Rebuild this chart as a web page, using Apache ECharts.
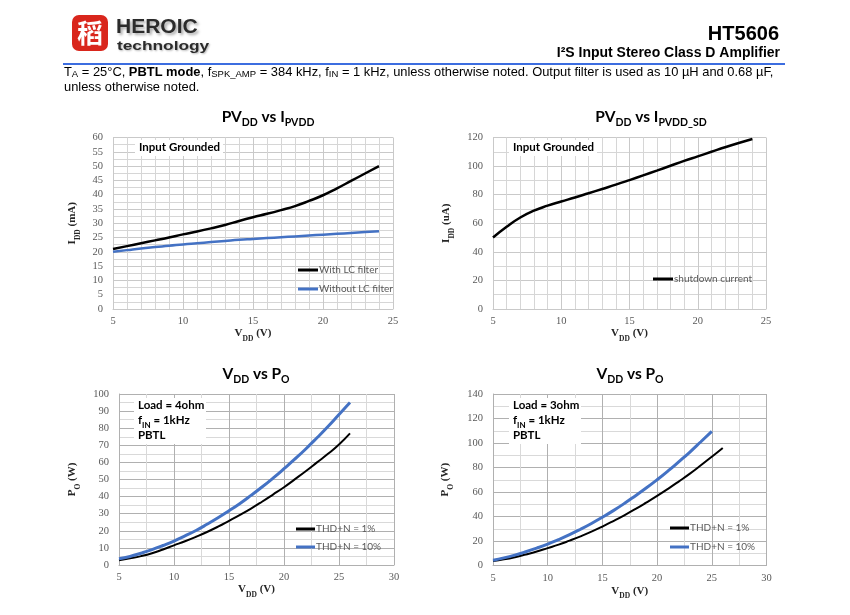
<!DOCTYPE html>
<html>
<head>
<meta charset="utf-8">
<script src="https://cdn.jsdelivr.net/npm/echarts@6/dist/echarts.min.js"></script>
<style>
html,body{margin:0;padding:0;background:#fff;}
#c{width:850px;height:615px;}
</style>
</head>
<body>
<div id="c"></div>
<script>
// ---- Data ----
const vddTop = [5,6,7,8,9,10,11,12,13,14,15,16,17,18,19,20,21,22,23,24];
const iddWithLC = [21,22,23,24,25,26.1,27.1,28.2,29.4,30.8,32.1,33.3,34.6,36,37.8,39.8,42.2,44.8,47.4,50];
const iddWithoutLC = [20,20.6,21.2,21.7,22.1,22.6,23,23.4,23.8,24.2,24.5,24.8,25.1,25.4,25.7,26,26.3,26.6,26.9,27.2];
const iddShutdown = [50,57.5,64,68.8,72.3,75.2,78,81,84,87,90.2,93.5,96.8,100.2,103.6,106.8,110,113.2,116.2,119];

const vddBottom = [5,6,7,8,9,10,11,12,13,14,15,16,17,18,19,20,21,22,23,24,25,26];
const vddBottom25 = [5,6,7,8,9,10,11,12,13,14,15,16,17,18,19,20,21,22,23,24,25];
const po4ohmThd1 = [2.8,3.9,5.2,6.9,9.1,11.5,13.9,16.5,19.3,22.4,25.8,29.3,33,37,41.2,45.5,50.2,55,60,65,70.5,77];
const po4ohmThd10 = [3.6,5,6.9,9,11.4,14,17,20.2,23.8,27.6,31.7,36,40.7,45.6,50.8,56.3,62,68,74.4,81,88,95];
const po3ohmThd1 = [3.6,5,6.8,9,11.4,14.2,17,20.3,23.8,27.6,31.8,36.3,41,46,51.3,56.8,62.6,68.7,75,81.8,88.8,96];
const po3ohmThd10 = [4.3,6.2,8.5,11.2,14.2,17.5,21.2,25.2,29.6,34.3,39.4,44.8,50.6,56.8,63.2,70,77.2,84.8,92.6,101,109.5];

const nameWith = 'With LC filter';
const nameWithout = 'Without LC filter';
const nameSd = 'shutdown current';
const nameThd1 = 'THD+N = 1%';
const nameThd10 = 'THD+N = 10%';

function pairs(xs, ys){ return xs.map((x,i)=>[x, ys[i]]); }

const BLACK = '#000000';
const BLUE = '#4472c4';
const serif = '"Liberation Serif", "Times New Roman", serif';
const sans = 'Lato, "Open Sans", "Liberation Sans", sans-serif';
const arial = '"Liberation Sans", Arial, sans-serif';

const nameRich = {
  b: {fontFamily: serif, fontWeight: 'bold', fontSize: 11, color: '#262626', lineHeight: 14, verticalAlign: 'top'},
  s: {fontFamily: serif, fontWeight: 'bold', fontSize: 7.5, color: '#262626', lineHeight: 9, padding: [7,0,0,0], verticalAlign: 'top'}
};

function xAx(gi, min, max, interval, minorN, gap, majorColor, minorColor){
  return {
    type: 'value', gridIndex: gi, min: min, max: max, interval: interval,
    name: '{b|V}{s|DD}{b| (V)}', nameLocation: 'middle', nameGap: gap,
    nameTextStyle: {rich: nameRich},
    axisLine: {show: true, lineStyle: {color: majorColor, width: 1}},
    axisTick: {show: false},
    axisLabel: {fontFamily: serif, fontSize: 10.5, color: '#595959', margin: 7},
    splitLine: {show: true, lineStyle: {color: majorColor, width: 1}},
    minorTick: {show: false, splitNumber: minorN},
    minorSplitLine: {show: true, lineStyle: {color: minorColor, width: 1}}
  };
}
function yAx(gi, min, max, interval, minorN, gap, nameStr, majorColor, minorColor){
  return {
    type: 'value', gridIndex: gi, min: min, max: max, interval: interval,
    name: nameStr, nameLocation: 'middle', nameGap: gap,
    nameTextStyle: {rich: nameRich},
    axisLine: {show: true, lineStyle: {color: majorColor, width: 1}},
    axisTick: {show: false},
    axisLabel: {fontFamily: serif, fontSize: 10.5, color: '#595959', margin: 10},
    splitLine: {show: true, lineStyle: {color: majorColor, width: 1}},
    minorTick: {show: false, splitNumber: minorN},
    minorSplitLine: {show: true, lineStyle: {color: minorColor, width: 1}}
  };
}
function lineSeries(name, gi, data, color, width){
  return {
    name: name, type: 'line', xAxisIndex: gi, yAxisIndex: gi,
    data: data, smooth: true, showSymbol: false, symbol: 'none',
    lineStyle: {color: color, width: width}, itemStyle: {color: color},
    silent: true, animation: false, z: 3
  };
}
function legendAt(left, top, names, itemW, gap){
  return {
    left: left, top: top, orient: 'vertical', icon: 'rect',
    itemWidth: itemW, itemHeight: 3, itemGap: gap, padding: 0,
    selectedMode: false, data: names,
    textStyle: {fontFamily: sans, fontSize: 10, color: '#595959', lineHeight: 14, padding: [0,0,0,-4]}
  };
}

const titleRich = {
  m: {fontFamily: sans, fontWeight: 'bold', fontSize: 15.5, color: '#000', lineHeight: 18, verticalAlign: 'top'},
  s: {fontFamily: sans, fontWeight: 'bold', fontSize: 10.5, color: '#000', lineHeight: 12, padding: [8,0,0,0], verticalAlign: 'top'}
};
function titleText(x, y, text){
  return {type: 'text', x: x, y: y, silent: true,
    style: {text: text, rich: titleRich, align: 'center', verticalAlign: 'middle'}};
}
const annoRich = {
  m: {fontFamily: sans, fontWeight: 'bold', fontSize: 11.5, color: '#000', lineHeight: 14, verticalAlign: 'top', textBorderWidth: 0},
  s: {fontFamily: sans, fontWeight: 'bold', fontSize: 8, color: '#000', lineHeight: 9, padding: [7,0,0,0], verticalAlign: 'top', textBorderWidth: 0}
};
function anno(x, y, text){
  return {type: 'text', x: x, y: y, silent: true, z: 10,
    style: {text: text, rich: annoRich, align: 'left', verticalAlign: 'middle', textBorderWidth: 0, stroke: null, lineWidth: 0}};
}
function whiteBox(x, y, w, h){
  return {type: 'rect', shape: {x: x, y: y, width: w, height: h}, style: {fill: '#ffffff'}, silent: true, z: 9};
}

const subRich = {
  n: {fontFamily: arial, fontSize: 12.9, color: '#000', lineHeight: 15, verticalAlign: 'top'},
  b: {fontFamily: arial, fontSize: 12.9, fontWeight: 'bold', color: '#000', lineHeight: 15, verticalAlign: 'top'},
  s: {fontFamily: arial, fontSize: 9.5, color: '#000', lineHeight: 11, padding: [4,0,0,0], verticalAlign: 'top'}
};

const chart = echarts.init(document.getElementById('c'), null, {renderer: 'canvas', width: 850, height: 615});

const gTop = '#c9c9c9', gTopMinor = '#d6d6d6';
const gBot = '#b0b0b0', gBotMinor = '#d9d9d9';

const option = {
  backgroundColor: '#ffffff',
  animation: false,
  grid: [
    {left: 113, top: 137.5, width: 280, height: 171.5},
    {left: 493, top: 137.5, width: 273, height: 171.5},
    {left: 119, top: 394, width: 275, height: 171},
    {left: 493, top: 394, width: 273.5, height: 171.5}
  ],
  xAxis: [
    xAx(0, 5, 25, 5, 5, 19, gTop, gTopMinor),
    xAx(1, 5, 25, 5, 5, 18, gTop, gTopMinor),
    xAx(2, 5, 30, 5, 2, 19, gBot, gBotMinor),
    xAx(3, 5, 30, 5, 2, 20, gBot, gBotMinor)
  ],
  yAxis: [
    yAx(0, 0, 60, 5, 2, 32, '{b|I}{s|DD}{b| (mA)}', gTop, gTopMinor),
    yAx(1, 0, 120, 20, 2, 38, '{b|I}{s|DD}{b| (uA)}', gTop, gTopMinor),
    yAx(2, 0, 100, 10, 2, 38, '{b|P}{s|O}{b| (W)}', gBot, gBotMinor),
    yAx(3, 0, 140, 20, 2, 39, '{b|P}{s|O}{b| (W)}', gBot, gBotMinor)
  ],
  legend: [
    legendAt(298, 263, [nameWith, nameWithout], 20, 5),
    legendAt(653, 272, [nameSd], 20, 5),
    legendAt(296, 522, [nameThd1, nameThd10], 19, 4),
    legendAt(670, 521, [nameThd1, nameThd10], 19, 5)
  ],
  series: [
    lineSeries(nameWith, 0, pairs(vddTop, iddWithLC), BLACK, 2.5),
    lineSeries(nameWithout, 0, pairs(vddTop, iddWithoutLC), BLUE, 2.5),
    lineSeries(nameSd, 1, pairs(vddTop, iddShutdown), BLACK, 2.5),
    lineSeries(nameThd1, 2, pairs(vddBottom, po4ohmThd1), BLACK, 2),
    lineSeries(nameThd10, 2, pairs(vddBottom, po4ohmThd10), BLUE, 3),
    lineSeries(nameThd1, 3, pairs(vddBottom, po3ohmThd1), BLACK, 2),
    lineSeries(nameThd10, 3, pairs(vddBottom25, po3ohmThd10), BLUE, 3)
  ],
  graphic: [
    // header logo
    {type: 'rect', shape: {x: 72, y: 15, width: 36, height: 36, r: 7}, style: {fill: '#d9261c'}, silent: true},
    {type: 'text', x: 90, y: 33, silent: true, style: {text: '稻', fontFamily: '"Noto Sans CJK SC", sans-serif', fontSize: 26, fontWeight: 'bold', fill: '#ffffff', align: 'center', verticalAlign: 'middle'}},
    {type: 'text', x: 116, y: 27, silent: true, style: {text: 'HEROIC', fontFamily: arial, fontSize: 21, fontWeight: 'bold', fill: '#2b2b2b', align: 'left', verticalAlign: 'middle', textShadowColor: 'rgba(0,0,0,0.35)', textShadowBlur: 3, textShadowOffsetX: 2, textShadowOffsetY: 2}},
    {type: 'text', x: 117, y: 46, scaleX: 1.33, silent: true, style: {text: 'technology', fontFamily: arial, fontSize: 13, fontWeight: 'bold', fill: '#2b2b2b', align: 'left', verticalAlign: 'middle', textShadowColor: 'rgba(0,0,0,0.3)', textShadowBlur: 2, textShadowOffsetX: 1, textShadowOffsetY: 1}},
    {type: 'text', x: 779, y: 34, silent: true, style: {text: 'HT5606', fontFamily: arial, fontSize: 20, fontWeight: 'bold', fill: '#000', align: 'right', verticalAlign: 'middle'}},
    {type: 'text', x: 780, y: 53, silent: true, style: {text: 'I²S Input Stereo Class D Amplifier', fontFamily: arial, fontSize: 14, fontWeight: 'bold', fill: '#000', align: 'right', verticalAlign: 'middle'}},
    {type: 'line', shape: {x1: 63, y1: 64, x2: 785, y2: 64}, style: {stroke: '#3c6de0', lineWidth: 2}, silent: true},
    {type: 'text', x: 64, y: 73, silent: true, style: {
      text: '{n|T}{s|A}{n| = 25°C, }{b|PBTL mode}{n|, f}{s|SPK_AMP}{n| = 384 kHz, f}{s|IN}{n| = 1 kHz, unless otherwise noted. Output filter is used as 10 µH and 0.68 µF,}',
      rich: subRich, align: 'left', verticalAlign: 'middle'}},
    {type: 'text', x: 64, y: 88, silent: true, style: {text: '{n|unless otherwise noted.}', rich: subRich, align: 'left', verticalAlign: 'middle'}},
    // chart titles
    titleText(268, 118, '{m|PV}{s|DD}{m| vs I}{s|PVDD}'),
    titleText(651, 118, '{m|PV}{s|DD}{m| vs I}{s|PVDD_SD}'),
    titleText(256, 375, '{m|V}{s|DD}{m| vs P}{s|O}'),
    titleText(630, 375, '{m|V}{s|DD}{m| vs P}{s|O}'),
    // annotation backgrounds
    whiteBox(135, 140, 88, 16),
    whiteBox(509, 140, 88, 16),
    whiteBox(134, 398, 72, 46),
    whiteBox(509, 398, 72, 46),
    // annotations
    anno(139, 148, '{m|Input Grounded}'),
    anno(513, 148, '{m|Input Grounded}'),
    anno(138, 406, '{m|Load = 4ohm}'),
    anno(138, 421, '{m|f}{s|IN}{m| = 1kHz}'),
    anno(138, 436, '{m|PBTL}'),
    anno(513, 406, '{m|Load = 3ohm}'),
    anno(513, 421, '{m|f}{s|IN}{m| = 1kHz}'),
    anno(513, 436, '{m|PBTL}')
  ]
};
chart.setOption(option);
</script>
</body>
</html>
